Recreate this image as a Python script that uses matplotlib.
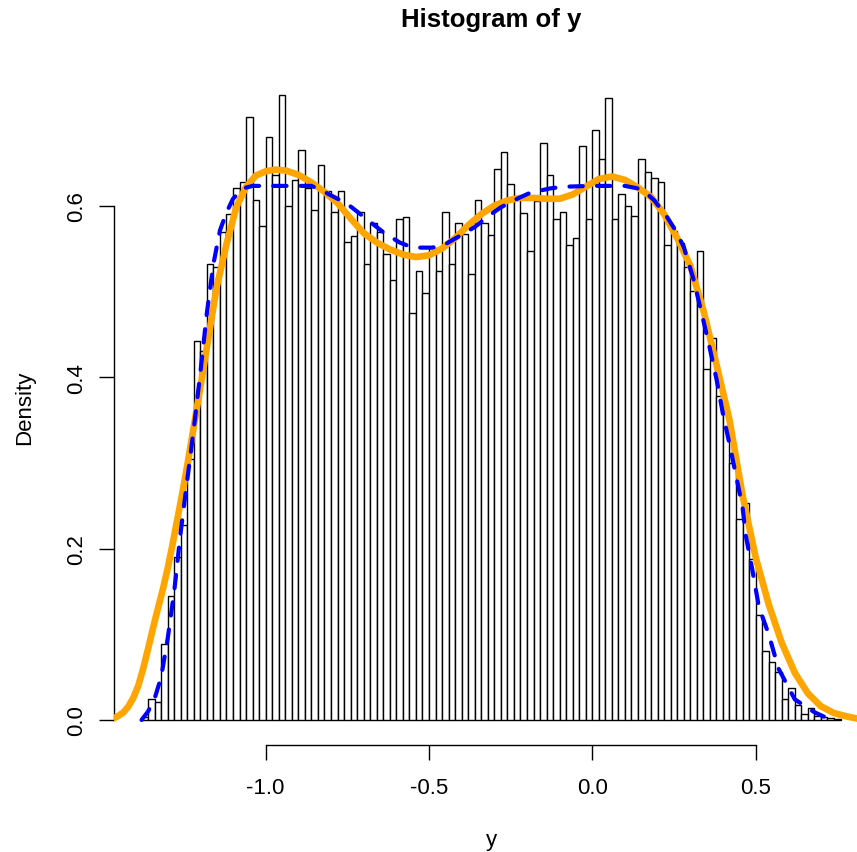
import numpy as np
import matplotlib
matplotlib.use("Agg")
import matplotlib.pyplot as plt

plt.rcParams['font.family'] = ['Liberation Sans', 'DejaVu Sans']

# histogram of y, breaks every 0.02 starting at -1.38
bin_start = -1.38
bin_width = 0.02
density = [0.004, 0.025, 0.021, 0.089, 0.145, 0.190, 0.227, 0.304, 0.442, 0.430,
           0.532, 0.528, 0.569, 0.590, 0.621, 0.628, 0.703, 0.606, 0.576, 0.680,
           0.636, 0.729, 0.599, 0.630, 0.665, 0.621, 0.595, 0.647, 0.617, 0.592,
           0.617, 0.558, 0.565, 0.592, 0.532, 0.580, 0.569, 0.543, 0.513, 0.584,
           0.587, 0.475, 0.524, 0.498, 0.550, 0.524, 0.592, 0.532, 0.580, 0.567,
           0.520, 0.606, 0.580, 0.566, 0.643, 0.662, 0.625, 0.608, 0.591, 0.547,
           0.605, 0.673, 0.636, 0.584, 0.592, 0.554, 0.562, 0.670, 0.584, 0.688,
           0.654, 0.725, 0.584, 0.614, 0.599, 0.588, 0.654, 0.639, 0.632, 0.628,
           0.554, 0.570, 0.556, 0.528, 0.500, 0.547, 0.409, 0.446, 0.378, 0.357,
           0.300, 0.234, 0.253, 0.188, 0.122, 0.081, 0.068, 0.056, 0.025, 0.037,
           0.018, 0.007, 0.014, 0.005, 0.004, 0.002, 0.001]

# kernel density estimate (orange)
kde_x = [-1.48, -1.465, -1.45, -1.435, -1.42, -1.405, -1.39, -1.375, -1.36, -1.345,
         -1.33, -1.315, -1.30, -1.285, -1.27, -1.255, -1.24, -1.21,
         -1.18, -1.15, -1.12, -1.09, -1.06, -1.03, -1.00, -0.97, -0.94, -0.90,
         -0.86, -0.82, -0.78, -0.74, -0.70, -0.66, -0.62, -0.58, -0.54, -0.50,
         -0.46, -0.42, -0.38, -0.34, -0.30, -0.26, -0.22, -0.18, -0.14, -0.10,
         -0.06, -0.02, 0.02, 0.06, 0.10, 0.14, 0.18, 0.22, 0.26, 0.30,
         0.34, 0.38, 0.42, 0.46, 0.50, 0.54, 0.58, 0.62, 0.66, 0.70,
         0.74, 0.78, 0.82, 0.86]
kde_y = [0.000, 0.002, 0.005, 0.009, 0.016, 0.026, 0.040, 0.060, 0.083, 0.107,
         0.130, 0.152, 0.177, 0.205, 0.235, 0.265, 0.297, 0.365,
         0.435, 0.505, 0.555, 0.598, 0.622, 0.635, 0.640, 0.642, 0.641, 0.636,
         0.627, 0.616, 0.603, 0.585, 0.568, 0.557, 0.549, 0.543, 0.540, 0.542,
         0.550, 0.562, 0.577, 0.590, 0.600, 0.606, 0.609, 0.609, 0.608, 0.608,
         0.613, 0.622, 0.631, 0.634, 0.630, 0.621, 0.610, 0.590, 0.562, 0.530,
         0.478, 0.415, 0.350, 0.262, 0.190, 0.135, 0.090, 0.055, 0.031, 0.016,
         0.008, 0.004, 0.001, 0.000]

# true density (blue dashed)
true_x = [-1.38, -1.36, -1.34, -1.32, -1.30, -1.28, -1.26, -1.24, -1.22, -1.20,
          -1.18, -1.16, -1.14, -1.12, -1.10, -1.07, -1.04, -0.95, -0.86, -0.83,
          -0.80, -0.75, -0.71, -0.67, -0.64, -0.59, -0.55, -0.49, -0.45, -0.40,
          -0.36, -0.31, -0.28, -0.23, -0.19, -0.13, -0.09, 0.00, 0.10, 0.14,
          0.17, 0.19, 0.23, 0.25, 0.28, 0.31, 0.34, 0.36, 0.38, 0.40,
          0.42, 0.44, 0.46, 0.47, 0.49, 0.51, 0.54, 0.57, 0.62, 0.68,
          0.72, 0.73]
true_y = [0.000, 0.010, 0.025, 0.050, 0.095, 0.150, 0.220, 0.280, 0.340, 0.405,
          0.475, 0.532, 0.571, 0.592, 0.608, 0.620, 0.623, 0.623, 0.623, 0.618,
          0.612, 0.602, 0.590, 0.578, 0.569, 0.557, 0.551, 0.551, 0.555, 0.566,
          0.575, 0.590, 0.598, 0.608, 0.615, 0.620, 0.622, 0.623, 0.623, 0.620,
          0.613, 0.606, 0.586, 0.574, 0.552, 0.514, 0.466, 0.433, 0.398, 0.357,
          0.322, 0.285, 0.248, 0.215, 0.175, 0.132, 0.100, 0.060, 0.024, 0.009,
          0.002, 0.000]

xticks = [-1.0, -0.5, 0.0, 0.5]
yticks = [0.0, 0.2, 0.4, 0.6]

W, H = 857, 853
fig = plt.figure(figsize=(W / 100, H / 100), dpi=100)
# plot region as R lays it out (right side runs past the cropped image)
left, right, top, bottom = 113.6, 868.5, 71, 746
ax = fig.add_axes([left / W, 1 - bottom / H, (right - left) / W, (bottom - top) / H])

edges = bin_start + bin_width * np.arange(len(density))
ax.bar(edges, density, width=bin_width, align='edge', color='white',
       edgecolor='black', linewidth=1.0)
ax.plot(kde_x, kde_y, color='#FFA500', lw=4.8, solid_capstyle='round',
        solid_joinstyle='round', zorder=3)
ax.plot(true_x, true_y, color='#0000FF', lw=3.0, dashes=(3.2, 3.4),
        dash_capstyle='round', zorder=4)

ax.set_xlim(-1.4656, 0.8456)
ax.set_ylim(-0.0292, 0.7582)
ax.set_xticks(xticks)
ax.set_yticks(yticks)
ax.set_xticklabels(['%.1f' % t for t in xticks])
ax.set_yticklabels(['%.1f' % t for t in yticks], rotation=90, va='center')
ax.spines['top'].set_visible(False)
ax.spines['right'].set_visible(False)
ax.spines['left'].set_bounds(0, 0.6)
ax.spines['bottom'].set_bounds(-1.0, 0.5)
for s in ['left', 'bottom']:
    ax.spines[s].set_linewidth(1.0)
ax.tick_params(length=10.8, width=1.0, labelsize=16)
ax.tick_params(axis='x', pad=12)
ax.tick_params(axis='y', pad=8)

fig.text(491 / W, 1 - 20 / H, 'Histogram of y', ha='center', va='center',
         fontsize=18.5, fontweight='bold')
fig.text(491 / W, 1 - 841 / H, 'y', ha='center', va='center', fontsize=16)
fig.text(25 / W, 1 - 408 / H, 'Density', ha='center', va='center',
         rotation=90, fontsize=16)

fig.savefig('out.png', dpi=100)
